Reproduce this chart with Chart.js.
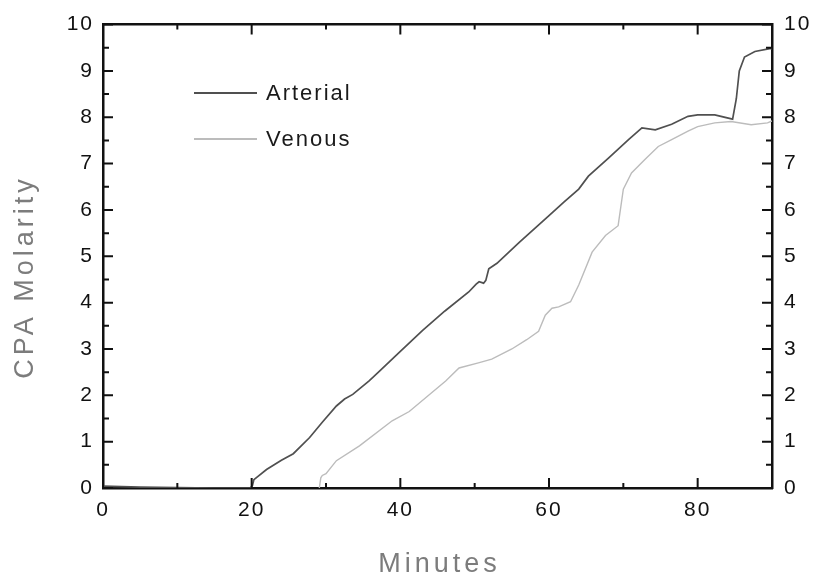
<!DOCTYPE html>
<html>
<head>
<meta charset="utf-8">
<script src="https://cdn.jsdelivr.net/npm/chart.js@4.4.1/dist/chart.umd.min.js"></script>
<style>
  html, body { margin: 0; padding: 0; background: #fff; }
</style>
</head>
<body>
<canvas id="cpaChart" width="832" height="581"></canvas>
<script>
"use strict";

// values
const arterialMinutes = [0, 5, 10, 15, 19.8, 20.1, 20.3, 22, 24, 25.6, 27.8, 29.5, 31.4, 32.5, 33.6, 35.8,
    37.2, 40, 43, 46, 49.2, 50.2, 50.6, 51.2, 51.5, 51.9, 53, 56, 60, 62, 64, 65.3, 68, 70.7, 72.5,
    74.3, 76.5, 78.7, 80, 82.3, 84.7, 85.2, 85.6, 86.3, 87.7, 89.7, 90];
const arterialMolarity = [0.04, 0.02, 0.01, 0, 0, 0.05, 0.18, 0.4, 0.6, 0.74, 1.09, 1.42, 1.77, 1.92, 2.02, 2.31,
    2.52, 2.95, 3.4, 3.82, 4.23, 4.4, 4.45, 4.42, 4.48, 4.73, 4.85, 5.3, 5.88, 6.17, 6.45, 6.73, 7.12, 7.52, 7.77,
    7.73, 7.85, 8.02, 8.05, 8.05, 7.96, 8.4, 9.0, 9.3, 9.42, 9.48, 9.48];

const venousMinutes = [29.1, 29.3, 29.5, 30, 31.4, 34.5, 38.9, 41.2, 46.1, 47.9, 50.5, 52.3, 55, 57, 58.6,
    59.5, 60.4, 61.3, 62.9, 64, 65.8, 67.6, 69.3, 70, 71.1, 72.9, 74.7, 76.5, 78.7, 80, 82.3, 84.5, 87.2, 89.4, 90];
const venousMolarity = [0, 0.22, 0.27, 0.31, 0.59, 0.91, 1.45, 1.65, 2.31, 2.59, 2.7, 2.78, 3.0, 3.2, 3.38,
    3.73, 3.88, 3.91, 4.02, 4.38, 5.09, 5.45, 5.66, 6.45, 6.8, 7.09, 7.37, 7.52, 7.7, 7.8, 7.88, 7.91, 7.84, 7.88, 7.92];

const seriesLabels = ['Arterial', 'Venous'];
const xTickValues = [0, 20, 40, 60, 80];
const yTickValues = [0, 1, 2, 3, 4, 5, 6, 7, 8, 9, 10];
const xTitle = 'Minutes';
const yTitle = 'CPA Molarity';

const toPoints = (xs, ys) => xs.map((x, i) => ({ x: x, y: ys[i] }));

const tickFont = { family: 'Liberation Sans, Arial, sans-serif', size: 21 };
const axisBorder = { display: true, color: '#111', width: 2.5 };

/**
 * Slightly spaced tick labels, like the scanned figure
 */
const spacedText = {
    id: 'spacedText',
    beforeDraw(chart) {
        chart.ctx.letterSpacing = '2px';
    }
};

/**
 * Inward major/minor tick marks on all four sides
 */
const insideTicks = {
    id: 'insideTicks',
    afterDraw(chart) {
        const ctx = chart.ctx;
        const { left, right, top, bottom } = chart.chartArea;
        const xs = chart.scales.x;
        const ys = chart.scales.y;
        ctx.save();
        ctx.strokeStyle = '#111';
        ctx.lineWidth = 2;
        ctx.beginPath();
        for (let m = 0; m <= 90; m += 10) {
            const px = xs.getPixelForValue(m);
            const len = m % 20 === 0 ? 10 : 5;
            ctx.moveTo(px, bottom); ctx.lineTo(px, bottom - len);
            ctx.moveTo(px, top); ctx.lineTo(px, top + len);
        }
        for (let v = 0; v <= 10; v += 0.5) {
            const py = ys.getPixelForValue(v);
            const len = Number.isInteger(v) ? 10 : 6;
            ctx.moveTo(left, py); ctx.lineTo(left + len, py);
            ctx.moveTo(right, py); ctx.lineTo(right - len, py);
        }
        ctx.stroke();
        ctx.restore();
    }
};

/**
 * Letter-spaced axis titles and the in-plot legend
 */
const titlesAndLegend = {
    id: 'titlesAndLegend',
    afterDraw(chart) {
        const ctx = chart.ctx;
        const xs = chart.scales.x;
        ctx.save();
        ctx.letterSpacing = '4px';
        ctx.fillStyle = '#7c7c7c';
        ctx.font = '27px "Liberation Sans", Arial, sans-serif';
        ctx.textAlign = 'center';
        ctx.textBaseline = 'middle';
        ctx.fillText(xTitle, (xs.left + xs.right) / 2 + 2, 565);
        ctx.translate(26, 277);
        ctx.rotate(-Math.PI / 2);
        ctx.fillText(yTitle, 0, 0);
        ctx.restore();

        ctx.save();
        ctx.letterSpacing = '2px';
        ctx.font = '22px "Liberation Sans", Arial, sans-serif';
        ctx.textAlign = 'left';
        ctx.textBaseline = 'middle';
        chart.data.datasets.forEach((ds, i) => {
            const y = 93 + i * 46;
            ctx.strokeStyle = ds.borderColor;
            ctx.lineWidth = ds.borderWidth + 0.5;
            ctx.beginPath();
            ctx.moveTo(194, y);
            ctx.lineTo(257, y);
            ctx.stroke();
            ctx.fillStyle = '#1a1a1a';
            ctx.fillText(ds.label, 266, y + 1);
        });
        ctx.restore();
    }
};

const ctx = document.getElementById('cpaChart');

const cpaChart = new Chart(ctx, {
    type: 'line',
    data: {
        datasets: [{
            label: seriesLabels[0],
            data: toPoints(arterialMinutes, arterialMolarity),
            borderColor: '#505050',
            borderWidth: 1.7,
            pointRadius: 0,
            tension: 0,
            xAxisID: 'x',
            yAxisID: 'y'
        }, {
            label: seriesLabels[1],
            data: toPoints(venousMinutes, venousMolarity),
            borderColor: '#bcbcbc',
            borderWidth: 1.4,
            pointRadius: 0,
            tension: 0,
            xAxisID: 'x',
            yAxisID: 'y'
        }]
    },
    options: {
        responsive: false,
        animation: false,
        layout: { padding: 0 },
        plugins: {
            legend: { display: false },
            tooltip: { enabled: false }
        },
        scales: {
            x: {
                type: 'linear',
                position: 'bottom',
                min: 0,
                max: 90,
                grid: { display: false, drawTicks: false },
                border: axisBorder,
                ticks: { font: tickFont, color: '#111', padding: 10, maxRotation: 0 },
                afterBuildTicks: scale => { scale.ticks = xTickValues.map(v => ({ value: v })); },
                afterFit: scale => { scale.height = 93; }
            },
            x2: {
                type: 'linear',
                position: 'top',
                min: 0,
                max: 90,
                grid: { display: false, drawTicks: false },
                border: axisBorder,
                ticks: { display: false },
                afterFit: scale => { scale.height = 21; }
            },
            y: {
                type: 'linear',
                position: 'left',
                min: 0,
                max: 10,
                grid: { display: false, drawTicks: false },
                border: axisBorder,
                ticks: { font: tickFont, color: '#111', padding: 9 },
                afterBuildTicks: scale => { scale.ticks = yTickValues.map(v => ({ value: v })); },
                afterFit: scale => { scale.width = 103; }
            },
            y2: {
                type: 'linear',
                position: 'right',
                min: 0,
                max: 10,
                grid: { display: false, drawTicks: false },
                border: axisBorder,
                ticks: { font: tickFont, color: '#111', padding: 12 },
                afterBuildTicks: scale => { scale.ticks = yTickValues.map(v => ({ value: v })); },
                afterFit: scale => { scale.width = 60; }
            }
        }
    },
    plugins: [spacedText, insideTicks, titlesAndLegend]
});
</script>
</body>
</html>
